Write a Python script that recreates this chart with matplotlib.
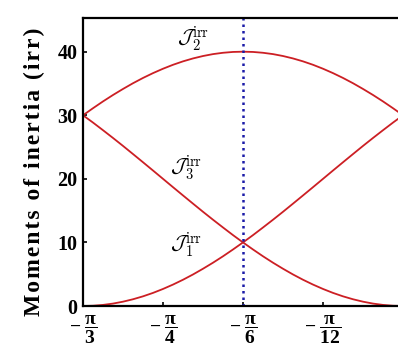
import numpy as np
import matplotlib
matplotlib.use("Agg")
import matplotlib.pyplot as plt

plt.rcParams["font.family"] = ["Liberation Serif", "DejaVu Serif"]
plt.rcParams["font.weight"] = "bold"
plt.rcParams["mathtext.fontset"] = "custom"
plt.rcParams["mathtext.rm"] = "Liberation Serif:bold"
plt.rcParams["mathtext.it"] = "Liberation Serif:bold"
plt.rcParams["mathtext.bf"] = "Liberation Serif:bold"

# gamma sampled in steps of pi/96 from -pi/3 to 0
gamma = np.arange(-32, 1) * np.pi / 96

J1 = [0.00, 0.04, 0.17, 0.38, 0.68, 1.06, 1.52, 2.06, 2.68, 3.37, 4.13,
      4.96, 5.86, 6.81, 7.82, 8.89, 10.00, 11.15, 12.35, 13.57, 14.82,
      16.10, 17.39, 18.69, 20.00, 21.31, 22.61, 23.90, 25.18, 26.43,
      27.65, 28.85, 30.00]
J2 = [30.00, 31.11, 32.18, 33.19, 34.14, 35.04, 35.87, 36.63, 37.32,
      37.94, 38.48, 38.94, 39.32, 39.62, 39.83, 39.96, 40.00, 39.96,
      39.83, 39.62, 39.32, 38.94, 38.48, 37.94, 37.32, 36.63, 35.87,
      35.04, 34.14, 33.19, 32.18, 31.11, 30.00]
J3 = [30.00, 28.85, 27.65, 26.43, 25.18, 23.90, 22.61, 21.31, 20.00,
      18.69, 17.39, 16.10, 14.82, 13.57, 12.35, 11.15, 10.00, 8.89, 7.82,
      6.81, 5.86, 4.96, 4.13, 3.37, 2.68, 2.06, 1.52, 1.06, 0.68, 0.38,
      0.17, 0.04, 0.00]

xticks = [-np.pi / 3, -np.pi / 4, -np.pi / 6, -np.pi / 12, 0]
xticklabels = [r"$-\;\dfrac{\pi}{3}$", r"$-\;\dfrac{\pi}{4}$", r"$-\;\dfrac{\pi}{6}$",
               r"$-\;\dfrac{\pi}{12}$", "0"]
yticks = [0, 10, 20, 30, 40]

fig = plt.figure(figsize=(3.98, 3.64), dpi=100)
ax = fig.add_axes([83 / 398, 58 / 364, (403 - 83) / 398, (306 - 18) / 364])

red = "#cc1f24"
for J in (J1, J2, J3):
    ax.plot(gamma, J, color=red, lw=1.3)

ax.axvline(-np.pi / 6, color="#1b1ba8", lw=1.8, ls=(0, (1.0, 1.6)))

ax.set_xlim(-np.pi / 3, 0)
ax.set_ylim(0, 45.3)
ax.set_xticks(xticks)
ax.set_xticklabels(xticklabels, fontsize=14)
ax.set_yticks(yticks)
ax.set_yticklabels([str(v) for v in yticks], fontsize=14.5, fontweight="bold")
ax.tick_params(direction="in", length=3, width=1.2)
ax.tick_params(axis="x", pad=6)
ax.tick_params(axis="y", pad=4)
for s in ax.spines.values():
    s.set_linewidth(1.6)

# widely tracked axis title
hair = "\u200a"
ylab = hair.join("Moments of inertia (irr)")
ax.set_ylabel(ylab, fontsize=17, fontweight="bold")
ax.yaxis.set_label_coords(-0.118, 0.465)
ax.set_xlabel(r"$\gamma$", fontsize=16, labelpad=23)

lab = dict(fontsize=15, ha="center", va="center", math_fontfamily="cm")
ax.text(-0.688, 42.0, r"$\mathcal{J}_2^{\mathrm{irr}}$", **lab)
ax.text(-0.711, 21.6, r"$\mathcal{J}_3^{\mathrm{irr}}$", **lab)
ax.text(-0.711, 9.6, r"$\mathcal{J}_1^{\mathrm{irr}}$", **lab)

fig.savefig("out.png", dpi=100)
